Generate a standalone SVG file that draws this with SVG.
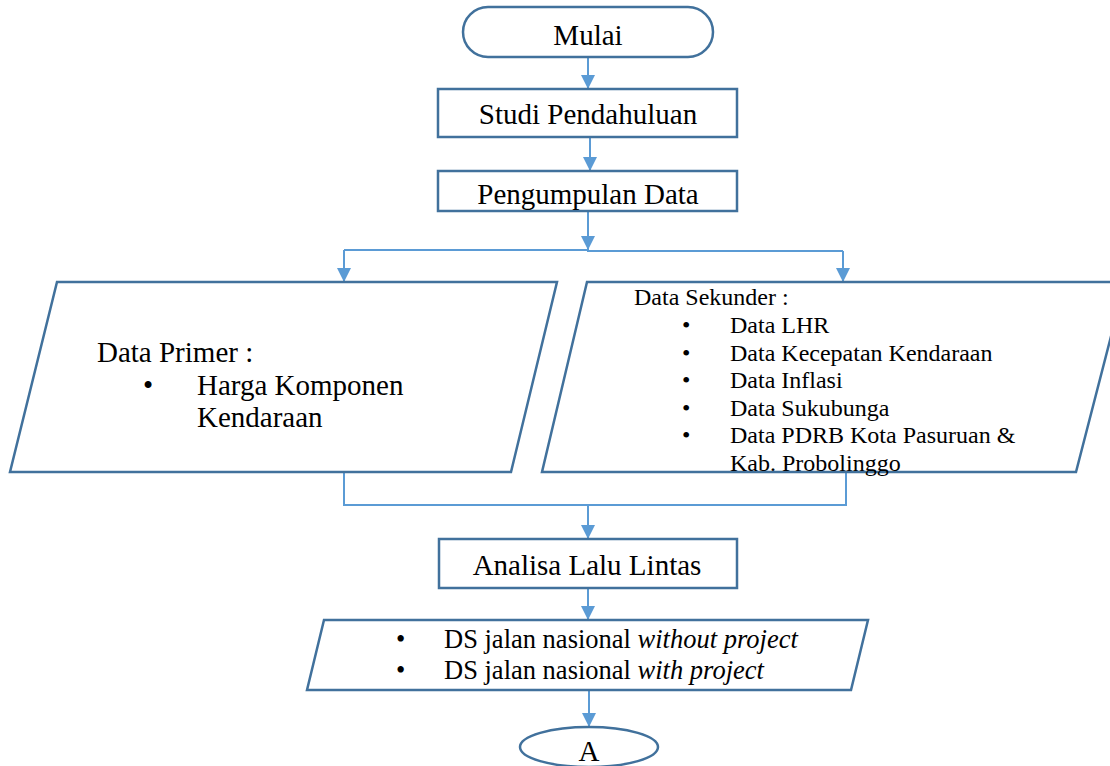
<svg xmlns="http://www.w3.org/2000/svg" width="1110" height="766" viewBox="0 0 1110 766" font-family="'Liberation Serif', 'Times New Roman', 'DejaVu Serif', serif">
<style>
.shape{fill:#fff;stroke:#41719C;stroke-width:2.5}
.conn{fill:none;stroke:#5B9BD5;stroke-width:2}
text{font-family:'Liberation Serif','Times New Roman','DejaVu Serif',serif;fill:#000}
.big{font-size:29px}
.mid{font-size:26.5px}
.sm{font-size:24px}
</style>
<defs>
<marker id="arr" markerUnits="userSpaceOnUse" markerWidth="14" markerHeight="14" viewBox="0 0 14 14" refX="14" refY="7" orient="auto">
<path d="M0,0 L14,7 L0,14 Z" fill="#5B9BD5"/>
</marker>
</defs>
<rect width="1110" height="766" fill="#fff"/>
<g id="connectors">
<line class="conn" x1="588" y1="57" x2="588" y2="89" marker-end="url(#arr)"/>
<line class="conn" x1="590" y1="137" x2="590" y2="171" marker-end="url(#arr)"/>
<line class="conn" x1="588" y1="211" x2="588" y2="250" marker-end="url(#arr)"/>
<polyline class="conn" points="344,250 588,250 588,251 843,251"/>
<line class="conn" x1="344" y1="250" x2="344" y2="282" marker-end="url(#arr)"/>
<line class="conn" x1="843" y1="251" x2="843" y2="282" marker-end="url(#arr)"/>
<polyline class="conn" points="344,472 344,505 846,505 846,472"/>
<line class="conn" x1="588" y1="505" x2="588" y2="539" marker-end="url(#arr)"/>
<line class="conn" x1="588" y1="588" x2="588" y2="620" marker-end="url(#arr)"/>
<line class="conn" x1="589" y1="690" x2="589" y2="727" marker-end="url(#arr)"/>
</g>
<g id="mulai">
<rect class="shape" x="463" y="7" width="250" height="50" rx="25" ry="25"/>
<text class="big" x="588" y="45" text-anchor="middle">Mulai</text>
</g>
<g id="studi">
<rect class="shape" x="438" y="89" width="299" height="48"/>
<text class="big" x="588" y="124" text-anchor="middle">Studi Pendahuluan</text>
</g>
<g id="pengumpulan">
<rect class="shape" x="438" y="171" width="299" height="40"/>
<text class="big" x="588" y="204" text-anchor="middle">Pengumpulan Data</text>
</g>
<g id="primer">
<polygon class="shape" points="57,282 557,282 511,472 10,472"/>
<text class="big" x="97" y="362">Data Primer :</text>
<text class="big" x="143" y="395">•</text>
<text class="big" x="197" y="395">Harga Komponen</text>
<text class="big" x="197" y="427">Kendaraan</text>
</g>
<g id="sekunder">
<polygon class="shape" points="587,282 1125,282 1076,472 542,472"/>
<text class="sm" x="634" y="305">Data Sekunder :</text>
<text class="sm" x="682" y="333">•</text><text class="sm" x="730" y="333">Data LHR</text>
<text class="sm" x="682" y="360.5">•</text><text class="sm" x="730" y="360.5">Data Kecepatan Kendaraan</text>
<text class="sm" x="682" y="388">•</text><text class="sm" x="730" y="388">Data Inflasi</text>
<text class="sm" x="682" y="415.5">•</text><text class="sm" x="730" y="415.5">Data Sukubunga</text>
<text class="sm" x="682" y="443">•</text><text class="sm" x="730" y="443">Data PDRB Kota Pasuruan &amp;</text>
<text class="sm" x="730" y="470.5">Kab. Probolinggo</text>
</g>
<g id="analisa">
<rect class="shape" x="439" y="539" width="298" height="49"/>
<text class="big" x="587" y="575" text-anchor="middle">Analisa Lalu Lintas</text>
</g>
<g id="ds">
<polygon class="shape" points="324,620 868,620 851,690 307,690"/>
<text class="mid" x="396" y="648">•</text><text class="mid" x="444" y="648">DS jalan nasional <tspan font-style="italic">without project</tspan></text>
<text class="mid" x="396" y="679">•</text><text class="mid" x="444" y="679">DS jalan nasional <tspan font-style="italic">with project</tspan></text>
</g>
<g id="a">
<ellipse class="shape" cx="589" cy="747" rx="69" ry="20"/>
<text class="big" x="589" y="761" text-anchor="middle">A</text>
</g>
</svg>
